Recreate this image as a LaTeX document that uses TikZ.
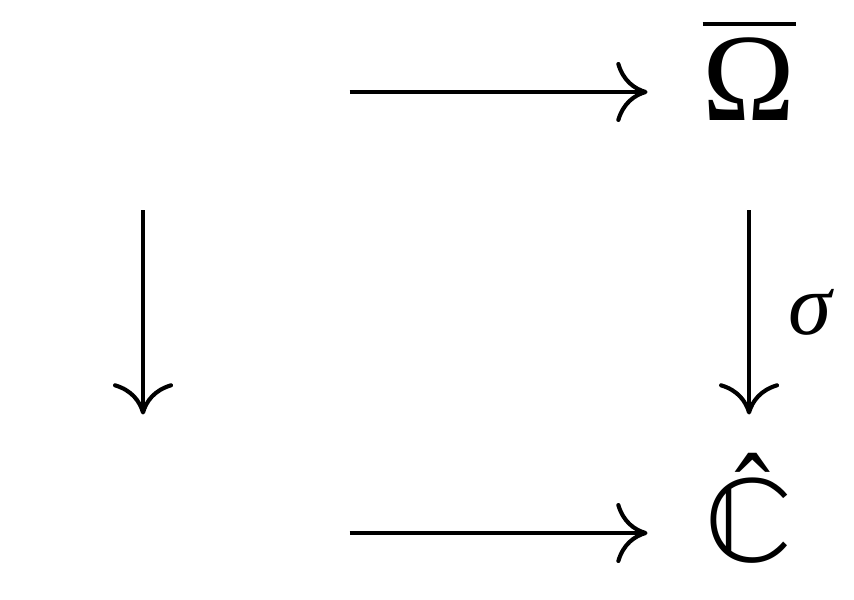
\documentclass[tikz,border=0pt]{standalone}
\usepackage{unicode-math}
\setmainfont{Liberation Serif}
\setmathfont{STIX Two Math}
\usetikzlibrary{positioning}
\usetikzlibrary{arrows.meta}

\newsavebox{\glyphbox}
\newcommand{\barbox}[1]{\sbox{\glyphbox}{#1}\rlap{\rule[7.5pt]{\wd\glyphbox}{0.32pt}}\usebox{\glyphbox}}

\tikzset{
  cell/.style={inner sep=0pt, text height=6.8pt, text depth=2.3pt},
  map/.style={line width=0.33pt, -{Computer Modern Rightarrow[length=2.5pt,width=4.8pt]}},
  maplabel/.style={right, inner sep=3pt, font=\fontsize{7}{8}\selectfont\itshape}
}

\begin{document}
\begin{tikzpicture}
\useasboundingbox (-11.44pt,7.36pt) rectangle (56.88pt,-40.56pt);
\node[cell, minimum width=32.64pt, minimum height=18.56pt](tl) at (0,0){};
\node[cell, minimum width=15.84pt, minimum height=18.56pt, right = 23.84pt of tl](om){\barbox{Ω}};
\node[cell, minimum width=32.64pt, minimum height=18.56pt, below = 16.32pt of tl](bl){};
\node[cell, minimum width=15.84pt, minimum height=18.56pt, right = 23.84pt of bl](ch){$\hat{\mathbb{C}}$};
\path (tl) edge[map] (om);
\path (bl) edge[map] (ch);
\path (tl) edge[map] (bl);
\path (om) edge[map] node[maplabel]{σ} (ch);
\end{tikzpicture}
\end{document}
